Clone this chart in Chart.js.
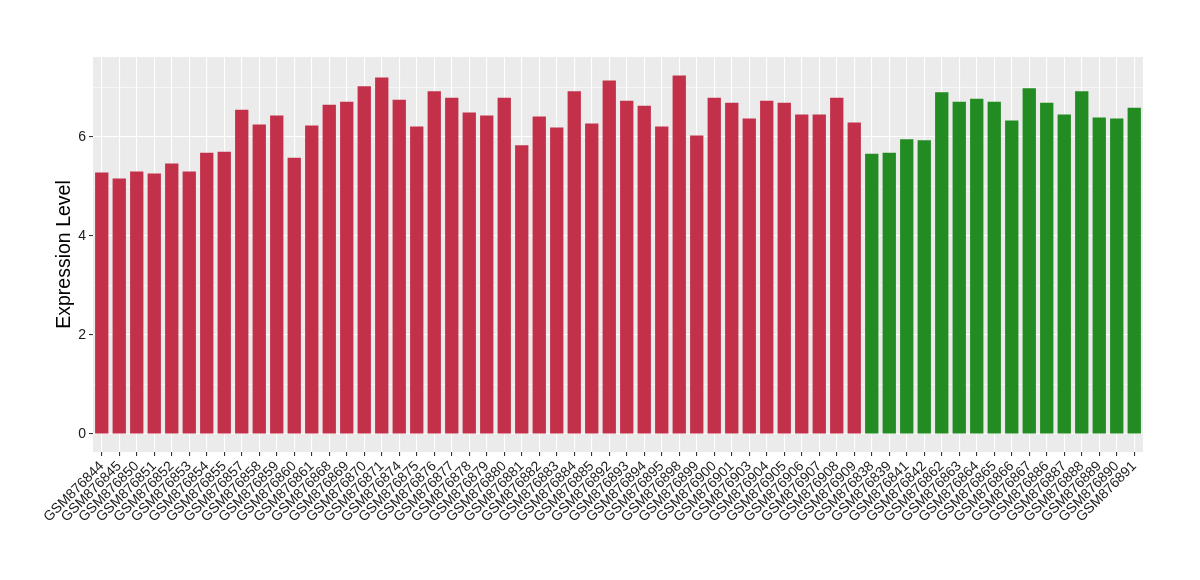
<!DOCTYPE html>
<html>
<head>
<meta charset="utf-8">
<script src="https://cdn.jsdelivr.net/npm/chart.js@4"></script>
<style>
  body { margin: 0; background: #fff; }
  canvas { display: block; }
</style>
</head>
<body>
<canvas id="grafico" width="1200" height="580"></canvas>
<script>
// samples of the first group (red) and the second group (green)
const redSamples = ['GSM876844', 'GSM876845', 'GSM876850', 'GSM876851', 'GSM876852', 'GSM876853', 'GSM876854', 'GSM876855',
    'GSM876857', 'GSM876858', 'GSM876859', 'GSM876860', 'GSM876861', 'GSM876868', 'GSM876869', 'GSM876870',
    'GSM876871', 'GSM876874', 'GSM876875', 'GSM876876', 'GSM876877', 'GSM876878', 'GSM876879', 'GSM876880',
    'GSM876881', 'GSM876882', 'GSM876883', 'GSM876884', 'GSM876885', 'GSM876892', 'GSM876893', 'GSM876894',
    'GSM876895', 'GSM876898', 'GSM876899', 'GSM876900', 'GSM876901', 'GSM876903', 'GSM876904', 'GSM876905',
    'GSM876906', 'GSM876907', 'GSM876908', 'GSM876909'];
const redValues = [5.28, 5.16, 5.30, 5.26, 5.46, 5.30, 5.68, 5.70,
    6.55, 6.25, 6.43, 5.58, 6.23, 6.65, 6.71, 7.02,
    7.20, 6.75, 6.21, 6.92, 6.79, 6.49, 6.43, 6.79,
    5.83, 6.41, 6.19, 6.92, 6.27, 7.14, 6.73, 6.63,
    6.21, 7.24, 6.03, 6.79, 6.69, 6.37, 6.73, 6.69,
    6.45, 6.45, 6.79, 6.29];
const greenSamples = ['GSM876838', 'GSM876839', 'GSM876841', 'GSM876842', 'GSM876862', 'GSM876863', 'GSM876864', 'GSM876865',
    'GSM876866', 'GSM876867', 'GSM876886', 'GSM876887', 'GSM876888', 'GSM876889', 'GSM876890', 'GSM876891'];
const greenValues = [5.66, 5.68, 5.95, 5.93, 6.90, 6.71, 6.77, 6.71,
    6.33, 6.98, 6.69, 6.45, 6.92, 6.39, 6.37, 6.59];
const yTicks = [0, 1, 2, 3, 4, 5, 6, 7];
const yLabels = ['0', '', '2', '', '4', '', '6', ''];

const labels = redSamples.concat(greenSamples);
const values = redValues.concat(greenValues);
const colores = redSamples.map(() => '#C3304A').concat(greenSamples.map(() => '#228B22'));

// gray panel behind the bars
const panelFondo = {
    id: 'panelFondo',
    beforeDraw(chart) {
        const a = chart.chartArea;
        const ctx = chart.ctx;
        ctx.save();
        ctx.fillStyle = '#EBEBEB';
        ctx.fillRect(a.left, a.top, a.right - a.left, a.bottom - a.top);
        ctx.restore();
    }
};

const ctx = document.getElementById('grafico').getContext('2d');
new Chart(ctx, {
    type: 'bar',
    data: {
        labels: labels,
        datasets: [{
            data: values,
            backgroundColor: colores,
            barPercentage: 0.76,
            categoryPercentage: 1.0
        }]
    },
    options: {
        responsive: false,
        animation: false,
        layout: { padding: { left: 50, right: 57, top: 57, bottom: 0 } },
        plugins: { legend: { display: false }, tooltip: { enabled: false } },
        scales: {
            x: {
                offset: true,
                border: { display: false },
                grid: { offset: false, color: '#FFFFFF', lineWidth: 1.1, tickColor: '#333333', tickLength: 4 },
                ticks: {
                    autoSkip: false, maxRotation: 45, minRotation: 45, padding: 2,
                    color: '#1A1A1A', font: { family: 'Liberation Sans', size: 14 }
                },
                afterFit(scale) { scale.height = 128; }
            },
            y: {
                min: -0.3625,
                max: 7.6125,
                border: { display: false },
                afterBuildTicks(scale) { scale.ticks = yTicks.map(v => ({ value: v })); },
                grid: {
                    color: '#FFFFFF',
                    lineWidth: c => (c.tick && c.tick.value % 2 === 0) ? 1.1 : 0.55,
                    tickColor: c => (c.tick && c.tick.value % 2 === 0) ? '#333333' : 'rgba(0,0,0,0)',
                    tickLength: 4
                },
                ticks: {
                    padding: 3,
                    color: '#1A1A1A',
                    font: { family: 'Liberation Sans', size: 14 },
                    callback: (v, i) => yLabels[yTicks.indexOf(v)]
                },
                title: {
                    display: true, text: 'Expression Level', color: '#000',
                    font: { family: 'Liberation Sans', size: 19.5 }, padding: { top: 3, bottom: 0 }
                },
                afterFit(scale) { scale.width = 43; }
            }
        }
    },
    plugins: [panelFondo]
});
</script>
</body>
</html>
